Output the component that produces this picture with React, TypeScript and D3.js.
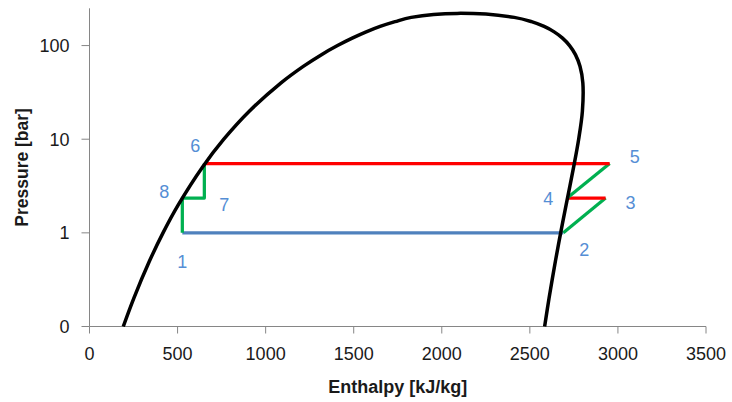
import React from "react";
import * as d3 from "d3";

// Saturation dome (pressure in bar, enthalpy in kJ/kg)
const satPressure = [0.1, 0.2, 0.5, 1, 2, 5, 10, 20, 40, 60, 80, 100, 120, 140, 160, 180, 200, 220.64];
const satLiquidH = [191.8, 251.4, 340.5, 417.4, 504.7, 640.1, 762.5, 908.5, 1087.4, 1213.7, 1317.1, 1408.1, 1491.5, 1571.0, 1650.0, 1734.8, 1826.6, 2087.5];
const satVaporH = [2583.9, 2608.9, 2645.2, 2674.9, 2706.2, 2748.1, 2777.1, 2798.3, 2800.8, 2784.6, 2758.7, 2725.5, 2685.4, 2638.1, 2581.0, 2509.5, 2411.4, 2087.5];

// Cycle state points
const stateLabels = ["1", "2", "3", "4", "5", "6", "7", "8"];
const stateH = [527, 2690, 2930, 2712, 2953, 652, 652, 527];
const stateP = [1.0, 1.0, 2.35, 2.35, 5.5, 5.5, 2.35, 2.35];

// Process segments: state indices along each path and colour
const segments: { path: number[]; color: string }[] = [
  { path: [0, 1], color: "#4f81bd" },
  { path: [1, 2], color: "#00b050" },
  { path: [2, 3], color: "#ff0000" },
  { path: [3, 4], color: "#00b050" },
  { path: [4, 5], color: "#ff0000" },
  { path: [5, 6, 7, 0], color: "#00b050" },
];

// label offsets (px) relative to state point
const labelDX = [0, 21, 25, -19, 25, -9, 20, -18];
const labelDY = [29, 17, 4, 0, -7, -18, 6, -7];

const xTicks = [0, 500, 1000, 1500, 2000, 2500, 3000, 3500];
const yTicks = [0.1, 1, 10, 100];

const W = 732;
const H = 402;
const left = 89.5;
const right = 706;
const top = 8.3;
const bottom = 326.5;
const FONT = "'Liberation Sans', Arial, sans-serif";

export default function App() {
  const x = d3.scaleLinear().domain([0, 3500]).range([left, right]);
  const y = d3.scaleLog().domain([0.1, 250]).range([bottom, top]);

  const domePts: [number, number][] = [
    ...satPressure.map((p, i) => [x(satLiquidH[i]), y(p)] as [number, number]),
    ...satPressure
      .slice(0, -1)
      .map((p, i) => [x(satVaporH[i]), y(p)] as [number, number])
      .reverse(),
  ];
  const dome = d3.line().curve(d3.curveCatmullRom.alpha(0.5))(domePts) || "";
  const lin = d3.line();

  const axisColor = "#868686";
  const textColor = "#1a1a1a";
  const labelColor = "#558ed5";

  return (
    <svg width={W} height={H} style={{ position: "absolute", left: 0, top: 0, background: "#fff" }}>
      {/* axes */}
      <line x1={left} x2={left} y1={top} y2={bottom} stroke={axisColor} strokeWidth={1} />
      <line x1={left} x2={right} y1={bottom} y2={bottom} stroke={axisColor} strokeWidth={1} />
      {yTicks.map((t) => (
        <g key={"y" + t}>
          <line x1={left - 8} x2={left} y1={y(t)} y2={y(t)} stroke={axisColor} strokeWidth={1} />
          <text x={69.5} y={y(t)} dy="0.36em" textAnchor="end" fontFamily={FONT} fontSize={18} fill={textColor}>
            {t < 1 ? "0" : String(t)}
          </text>
        </g>
      ))}
      {xTicks.map((t) => (
        <g key={"x" + t}>
          <line x1={x(t)} x2={x(t)} y1={bottom} y2={bottom + 7} stroke={axisColor} strokeWidth={1} />
          <text x={x(t)} y={360} textAnchor="middle" fontFamily={FONT} fontSize={18} fill={textColor}>
            {t}
          </text>
        </g>
      ))}
      <text x={(left + right) / 2} y={393} textAnchor="middle" fontFamily={FONT} fontSize={18} fontWeight="bold" fill={textColor}>
        Enthalpy [kJ/kg]
      </text>
      <text
        transform={`translate(27.5, ${(top + bottom) / 2}) rotate(-90)`}
        textAnchor="middle"
        fontFamily={FONT}
        fontSize={17.5}
        fontWeight="bold"
        fill={textColor}
      >
        Pressure [bar]
      </text>

      {/* cycle */}
      {segments.map((s, i) => (
        <path
          key={"s" + i}
          d={lin(s.path.map((k) => [x(stateH[k]), y(stateP[k])] as [number, number])) || ""}
          fill="none"
          stroke={s.color}
          strokeWidth={3.25}
          strokeLinejoin="round"
        />
      ))}

      {/* dome */}
      <path d={dome} fill="none" stroke="#000" strokeWidth={3.5} strokeLinejoin="round" />

      {stateLabels.map((l, i) => (
        <text
          key={"l" + l}
          x={x(stateH[i]) + labelDX[i]}
          y={y(stateP[i]) + labelDY[i]}
          dy="0.36em"
          textAnchor="middle"
          fontFamily={FONT}
          fontSize={18}
          fill={labelColor}
        >
          {l}
        </text>
      ))}
    </svg>
  );
}
